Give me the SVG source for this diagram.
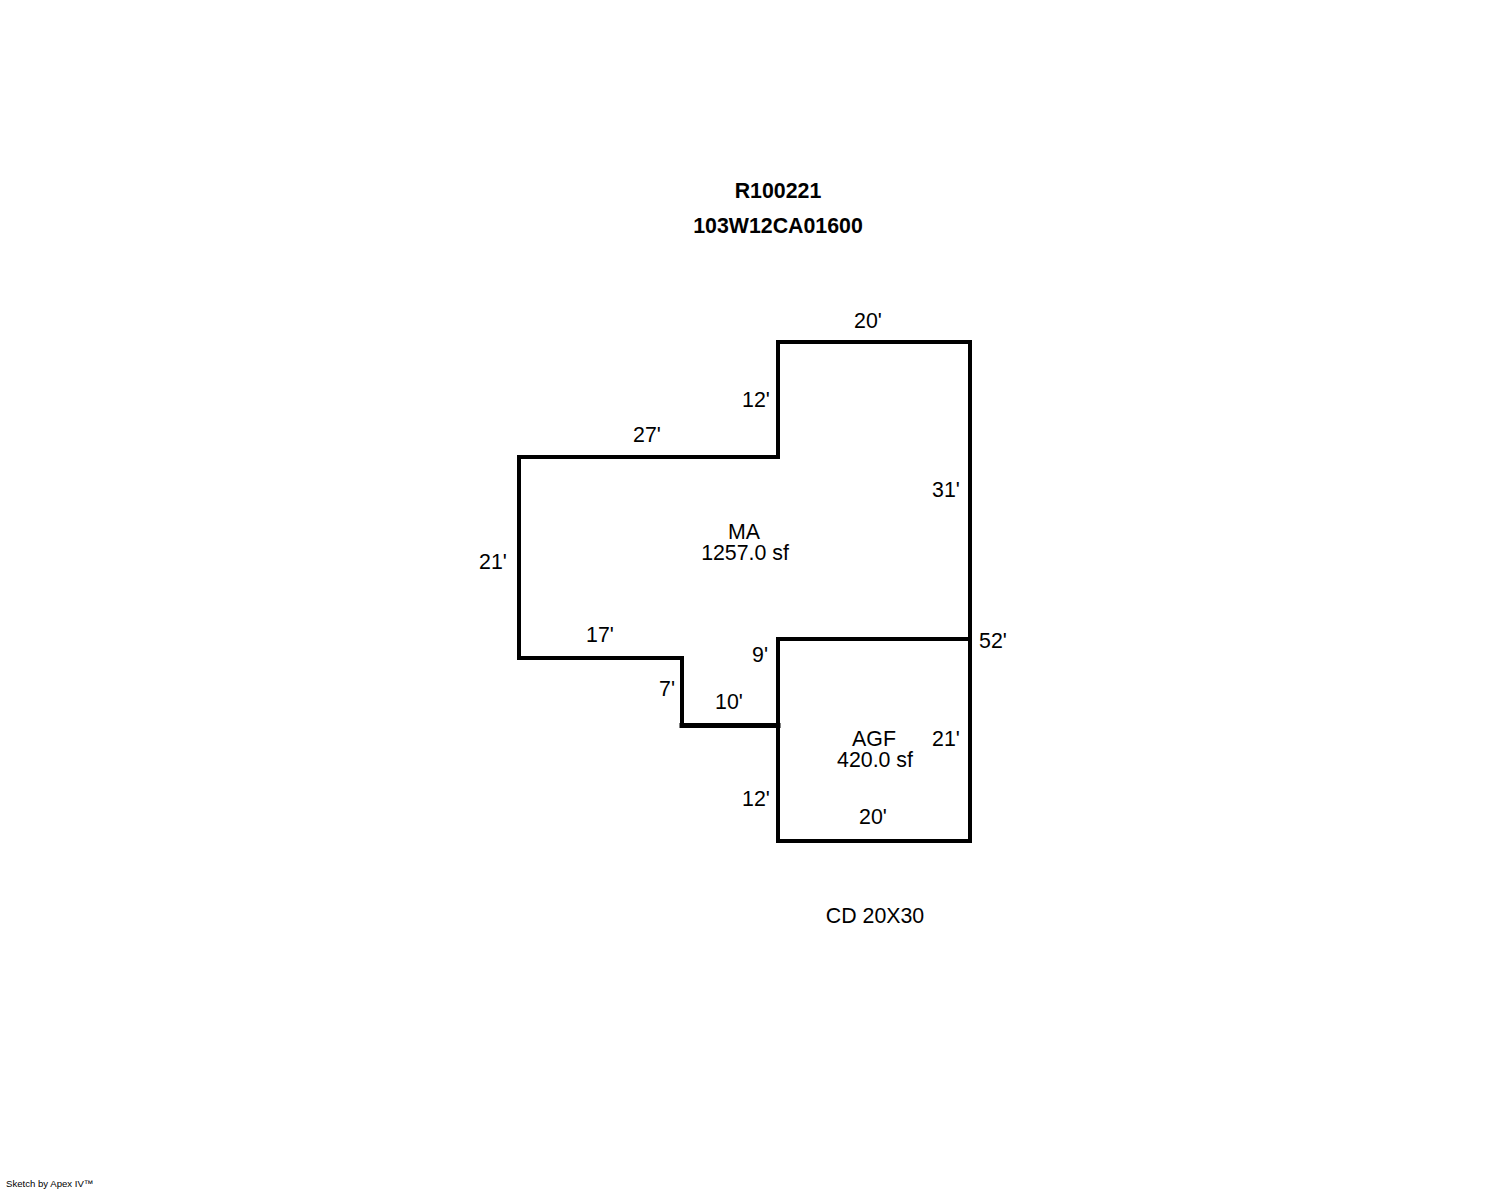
<svg xmlns="http://www.w3.org/2000/svg" width="1488" height="1190" viewBox="0 0 1488 1190">
<style>
.w{fill:none;stroke:#000;stroke-width:4;stroke-linecap:square}
.t{stroke-width:5}
text{font-family:"Liberation Sans",Arial,sans-serif;font-size:21.33px;fill:#000}
.m{text-anchor:middle}
.b{font-weight:bold}
</style>
<rect width="1488" height="1190" fill="#fff"/>
<g id="walls">
<path class="w" d="M778 639H970M970 342V841H778V639M778 457V342H970M778 457H519V658H682V725"/>
<path class="w t" d="M682 725.500H778"/>
</g>
<g id="labels">
<text class="b m" x="778" y="198">R100221</text>
<text class="b m" x="778" y="233">103W12CA01600</text>
<text class="m" x="868" y="328">20'</text>
<text class="m" x="756" y="407">12'</text>
<text class="m" x="647" y="442">27'</text>
<text class="m" x="946" y="497">31'</text>
<text class="m" x="744" y="539">MA</text>
<text class="m" x="745" y="560">1257.0 sf</text>
<text class="m" x="493" y="569">21'</text>
<text class="m" x="600" y="642">17'</text>
<text class="m" x="993" y="648">52'</text>
<text class="m" x="760" y="662">9'</text>
<text class="m" x="667" y="696">7'</text>
<text class="m" x="729" y="709">10'</text>
<text class="m" x="874" y="746">AGF</text>
<text class="m" x="946" y="746">21'</text>
<text class="m" x="875" y="767">420.0 sf</text>
<text class="m" x="756" y="806">12'</text>
<text class="m" x="873" y="824">20'</text>
<text class="m" x="875" y="923">CD 20X30</text>
<text x="6" y="1187" style="font-size:9.6px">Sketch by Apex IV™</text>
</g>
</svg>
